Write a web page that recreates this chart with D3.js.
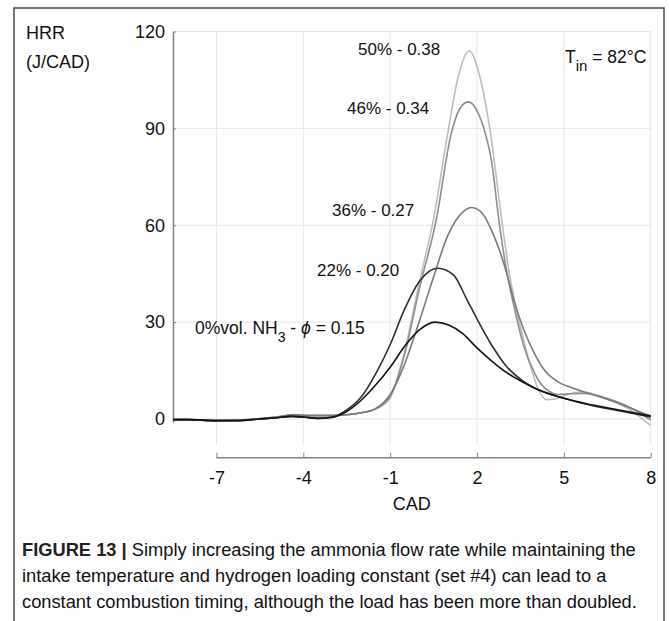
<!DOCTYPE html>
<html>
<head>
<meta charset="utf-8">
<script src="https://cdn.jsdelivr.net/npm/d3@7"></script>
<style>
  body { margin: 0; background: #fff; }
  svg text { font-family: "Liberation Sans", Arial, Helvetica, sans-serif; fill: #111; }
</style>
</head>
<body>
<svg id="chart" width="669" height="621"></svg>
<script>
// tick values
const xTicks = [-7, -4, -1, 2, 5, 8];
const yTicks = [0, 30, 60, 90, 120];

// HRR traces [CAD, J/CAD]
const hrr0 = [[-8.5,-0.2],[-8,-0.2],[-7,-0.5],[-6.3,-0.5],[-5.5,0],[-5,0.3],[-4.4,0.8],[-4,0.6],[-3.5,0.2],[-3,0.5],
  [-2.5,2.3],[-2,5.8],[-1.5,10.5],[-1,16],[-0.5,22.5],[0,27.5],[0.55,30],[1,29.2],[1.5,26.5],[2,22],[2.5,18],
  [3,14.5],[3.5,11.8],[4,9.5],[5,6.4],[6,4.3],[7,2.6],[8,1]];
const hrr22 = [[-8.5,-0.2],[-8,-0.2],[-7,-0.5],[-6.3,-0.5],[-5.5,0],[-5,0.3],[-4.4,0.8],[-4,0.6],[-3.5,0.2],[-3,0.6],
  [-2.5,2.8],[-2,6.8],[-1.5,14],[-1,23],[-0.5,34],[0,42.5],[0.65,46.7],[1.2,44.5],[1.65,37],[2,31],[2.5,23],
  [3,16.5],[3.5,12.3],[4,9.5],[5,6.4],[6,4.1],[7,2.4],[8,0.6]];
const hrr36 = [[-8.5,-0.2],[-8,-0.2],[-7,-0.5],[-6.3,-0.4],[-5.5,0.1],[-5,0.5],[-4.3,1.3],[-3.8,1],[-3.2,1],[-2.5,1.3],
  [-2,1.9],[-1.5,3.2],[-1,7.5],[-0.5,17],[0,30],[0.5,44],[1,57],[1.5,64],[1.82,65.5],[2.2,63.5],[2.5,58.5],
  [3,46],[3.3,36],[3.6,28],[4,20],[4.3,15.5],[4.8,11.5],[5.3,9.6],[6.2,7],[7,4.5],[8,0.8]];
const hrr46 = [[-8.5,-0.2],[-8,-0.2],[-7,-0.5],[-6.3,-0.4],[-5.5,0.1],[-5,0.5],[-4.3,1.3],[-3.8,1.1],[-3.2,1.1],[-2.5,1.3],
  [-2,1.9],[-1.5,3.2],[-1,7],[-0.5,20],[0,40],[0.6,62],[1.1,88],[1.4,96],[1.7,98.2],[2,95.5],[2.3,88],[2.5,80],
  [2.75,62],[3,47],[3.3,34],[3.6,23],[4,14],[4.2,11],[4.5,8.5],[4.8,7.6],[5.2,7.8],[5.7,7.9],[6.5,6.3],[7.3,3.5],[8,-0.3]];
const hrr50 = [[-8.5,-0.2],[-8,-0.2],[-7,-0.5],[-6.3,-0.4],[-5.5,0.1],[-5,0.5],[-4.3,1.4],[-3.8,1.1],[-3.2,1.1],[-2.5,1.3],
  [-2,1.9],[-1.5,3],[-1,6.5],[-0.5,21],[0,42],[0.5,62],[1,89],[1.35,106],[1.73,114],[2.1,106],[2.45,89.5],
  [2.85,62],[3.1,46],[3.45,30.5],[3.8,18],[4.1,9.5],[4.4,6],[4.7,6.2],[5.1,7.5],[5.6,8.4],[6.3,7],[7.2,3.3],[8,-2]];

const seriesNames = ["50% - 0.38", "46% - 0.34", "36% - 0.27", "22% - 0.20", "0%vol. NH3 - \u03d5 = 0.15"];
const seriesData = [hrr50, hrr46, hrr36, hrr22, hrr0];
const seriesColors = ["#bdbdbd", "#8e8e8e", "#7a7a7a", "#2e2e2e", "#141414"];

const svg = d3.select("#chart");

// outer figure frame
svg.append("rect")
  .attr("x", 14).attr("y", 8)
  .attr("width", 650).attr("height", 640)
  .attr("fill", "none").attr("stroke", "#4a4a4a").attr("stroke-width", 1.5);

const x = d3.scaleLinear().domain([-8.5, 8]).range([173, 650.7]);
const y = d3.scaleLinear().domain([-1, 120]).range([422.2, 31.5]);
const xAxisY = 457.7;

// grid
const grid = svg.append("g").attr("stroke", "#e6e6e6").attr("stroke-width", 1);
grid.selectAll(".vg").data(xTicks).join("line")
  .attr("x1", d => x(d)).attr("x2", d => x(d))
  .attr("y1", y(120)).attr("y2", y(-8));
grid.selectAll(".hg").data(yTicks).join("line")
  .attr("x1", x(-8.5)).attr("x2", x(8))
  .attr("y1", d => y(d)).attr("y2", d => y(d));

// y axis
const yAxis = svg.append("g")
  .attr("transform", `translate(${x(-8.5)},0)`)
  .call(d3.axisLeft(y).tickValues(yTicks).tickSizeInner(-3).tickSizeOuter(0).tickPadding(8));
yAxis.select(".domain").attr("stroke", "#808080").attr("stroke-width", 1.5);
yAxis.selectAll(".tick line").attr("stroke", "#808080");
yAxis.selectAll(".tick text").attr("font-size", 18).attr("fill", "#111");

// x axis (offset below the data)
const xAxis = svg.append("g")
  .attr("transform", `translate(0,${xAxisY})`)
  .call(d3.axisBottom(x).tickValues(xTicks).tickFormat(d => String(d))
    .tickSizeInner(-5).tickSizeOuter(0).tickPadding(14));
xAxis.select(".domain").remove();
xAxis.append("line")
  .attr("x1", x(-7)).attr("x2", x(8))
  .attr("stroke", "#808080").attr("stroke-width", 1.5);
xAxis.selectAll(".tick line").attr("stroke", "#808080");
xAxis.selectAll(".tick text").attr("font-size", 18).attr("fill", "#111");

// curves
const line = d3.line()
  .x(d => x(d[0])).y(d => y(d[1]))
  .curve(d3.curveMonotoneX);

svg.append("g").selectAll("path").data(seriesData).join("path")
  .attr("d", line)
  .attr("fill", "none")
  .attr("stroke", (d, i) => seriesColors[i])
  .attr("stroke-width", 1.6);

// series labels
const labelPos = [[358, 49], [347, 108], [332, 210], [317, 270]];
svg.append("g").selectAll("text").data(labelPos).join("text")
  .attr("x", d => d[0]).attr("y", d => d[1]).attr("dy", "0.35em")
  .attr("font-size", 17)
  .text((d, i) => seriesNames[i]);

const lab0 = svg.append("text").attr("x", 195).attr("y", 328).attr("dy", "0.35em").attr("font-size", 17.5);
lab0.append("tspan").text("0%vol. NH");
lab0.append("tspan").attr("dy", 8).attr("font-size", 14).text("3");
lab0.append("tspan").attr("dy", -8).text(" - ");
lab0.append("tspan").attr("font-style", "italic").text("\u03d5");
lab0.append("tspan").text(" = 0.15");

const tin = svg.append("text").attr("x", 565).attr("y", 57).attr("dy", "0.35em").attr("font-size", 17.5);
tin.append("tspan").text("T");
tin.append("tspan").attr("dy", 8).attr("font-size", 15).text("in");
tin.append("tspan").attr("dy", -8).text(" = 82\u00b0C");

// axis titles
svg.append("text").attr("x", 26).attr("y", 33).attr("dy", "0.35em").attr("font-size", 18).text("HRR");
svg.append("text").attr("x", 26).attr("y", 62).attr("dy", "0.35em").attr("font-size", 18).text("(J/CAD)");
svg.append("text").attr("x", (x(-8.5) + x(8)) / 2).attr("y", 504).attr("dy", "0.35em")
  .attr("text-anchor", "middle").attr("font-size", 18).text("CAD");

// caption
const captionLines = [
  "Simply increasing the ammonia flow rate while maintaining the",
  "intake temperature and hydrogen loading constant (set #4) can lead to a",
  "constant combustion timing, although the load has been more than doubled."
];
const cap = svg.append("g").attr("font-size", 18.3);
captionLines.forEach((t, i) => {
  const tx = cap.append("text").attr("x", 22).attr("y", 556 + i * 26).attr("fill", "#333");
  if (i === 0) {
    tx.append("tspan").attr("font-weight", "bold").attr("fill", "#222").text("FIGURE 13 | ");
  }
  tx.append("tspan").text(t);
});
</script>
</body>
</html>
